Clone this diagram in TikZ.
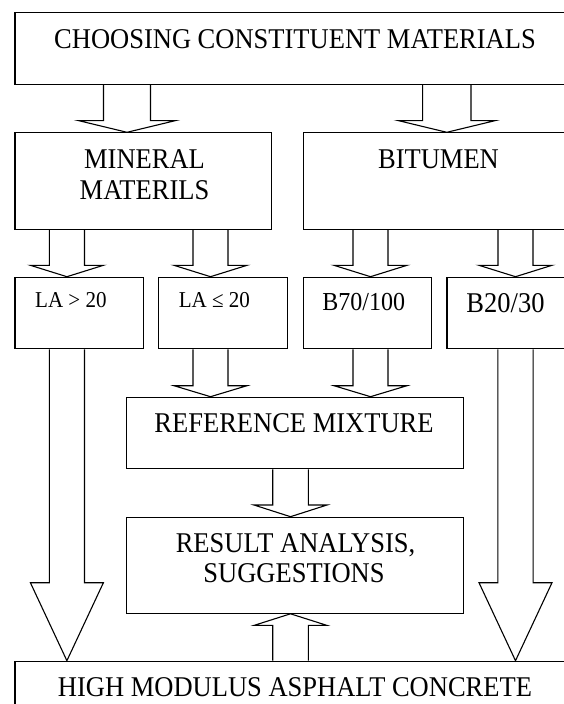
\documentclass[tikz,border=0pt]{standalone}
\usepackage{fontspec}
\setmainfont{Liberation Serif}[FakeStretch=0.927]
\usetikzlibrary{calc}
\tikzset{
  box/.style={draw, line width=1.1pt, inner sep=0pt, anchor=north west},
  txt/.style={anchor=base, inner sep=0pt, font=\fontsize{28.6}{32}\selectfont},
  smalltxt/.style={txt, font=\fontsize{22.7}{26}\selectfont},
  midtxt/.style={txt, font=\fontsize{25.9}{29}\selectfont},
  arr/.style={draw, line width=1.1pt, line join=miter}
}
% block arrow pointing down: from, to, x, shaft half, head half, head length
\newcommand\barrowdown[6]{%
  \draw[arr] let \p1=(#1.south), \p2=(#2.north) in
    (#3-#4,\y1) -- (#3-#4,\y2+#6pt) -- (#3-#5,\y2+#6pt) -- (#3,\y2)
    -- (#3+#5,\y2+#6pt) -- (#3+#4,\y2+#6pt) -- (#3+#4,\y1);}
% block arrow pointing up: from (below), to (above)
\newcommand\barrowup[6]{%
  \draw[arr] let \p1=(#1.north), \p2=(#2.south) in
    (#3-#4,\y1) -- (#3-#4,\y2-#6pt) -- (#3-#5,\y2-#6pt) -- (#3,\y2)
    -- (#3+#5,\y2-#6pt) -- (#3+#4,\y2-#6pt) -- (#3+#4,\y1);}
\begin{document}
\begin{tikzpicture}[x=1pt, y=-1pt]
\useasboundingbox (0,0) rectangle (564,704);
\fill[white] (0,0) rectangle (564,704);
\clip (0,0) rectangle (564,704);

% boxes
\node[box, minimum width=561.6pt, minimum height=71.7pt] (top) at (14.4,12.3) {};
\node[box, minimum width=256.1pt, minimum height=96.4pt] (mineral) at (14.4,132.3) {};
\node[box, minimum width=273.5pt, minimum height=96.4pt] (bitumen) at (302.5,132.3) {};
\node[box, minimum width=128.4pt, minimum height=71.6pt] (la1) at (14.4,276.7) {};
\node[box, minimum width=128.7pt, minimum height=71.6pt] (la2) at (158.3,276.7) {};
\node[box, minimum width=128.1pt, minimum height=71.6pt] (b70) at (302.5,276.7) {};
\node[box, minimum width=129pt, minimum height=71.6pt] (b20) at (446.4,276.7) {};
\node[box, minimum width=337pt, minimum height=71.6pt] (ref) at (126,396.7) {};
\node[box, minimum width=337pt, minimum height=96pt] (res) at (126,516.7) {};
\node[box, minimum width=561.6pt, minimum height=72pt] (hm) at (14.4,660.7) {};

% texts
\node[txt] (t0) at (295,48.3) {CHOOSING CONSTITUENT MATERIALS};
\node[txt] (t1a) at (144.5,168.3) {MINERAL};
\node[txt] (t1b) at (144.5,199) {MATERILS};
\node[txt] (t2) at (438.5,168.3) {BITUMEN};
\node[smalltxt] (t3) at (70.9,307.3) {LA > 20};
\node[smalltxt] (t4) at (214.4,307.3) {LA ≤ 20};
\node[midtxt] (t5) at (363.7,310.7) {B70/100};
\node[txt] (t6) at (505.5,312.3) {B20/30};
\node[txt] (t7) at (294,432.3) {REFERENCE MIXTURE};
\node[txt] (t8a) at (295.5,552.7) {RESULT ANALYSIS,};
\node[txt] (t8b) at (294,582.3) {SUGGESTIONS};
\node[txt] (t9) at (295,696.7) {HIGH MODULUS ASPHALT CONCRETE};

% block arrows
\barrowdown{top}{mineral}{127}{23.5}{48.5}{11.7}
\barrowdown{top}{bitumen}{446.8}{24.2}{48.5}{11.7}
\barrowdown{mineral}{la1}{66.9}{17.6}{36.5}{11.4}
\barrowdown{mineral}{la2}{210.5}{17.5}{36.5}{11.4}
\barrowdown{bitumen}{b70}{370.5}{17.5}{36.5}{11.4}
\barrowdown{bitumen}{b20}{515.5}{17.5}{36.5}{11.4}
\barrowdown{la2}{ref}{210.5}{17.5}{36.5}{11}
\barrowdown{b70}{ref}{370.5}{17.5}{36.5}{11}
\barrowdown{ref}{res}{290.5}{17.8}{36.5}{11.7}
\barrowdown{la1}{hm}{66.9}{17.6}{36.5}{78}
\barrowdown{b20}{hm}{515.5}{17.6}{36.5}{78}
\barrowup{hm}{res}{290.5}{17.8}{36.5}{11.6}
\end{tikzpicture}
\end{document}
